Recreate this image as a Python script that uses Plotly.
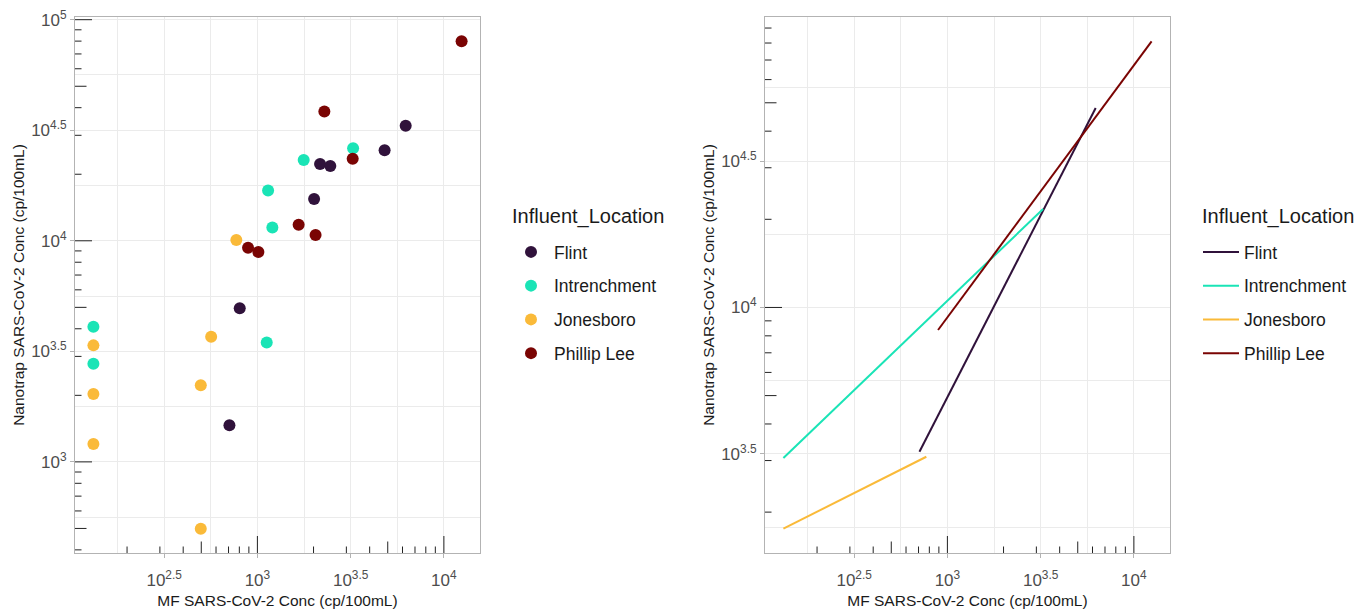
import numpy as np
import plotly.graph_objects as go

# ---------------- data (cp/100mL) ----------------
locations = ["Flint", "Intrenchment", "Jonesboro", "Phillip Lee"]
colors = ["#30123B", "#1AE4B6", "#FABA39", "#7A0403"]

mf_flint = [6240, 4810, 2168, 2460, 2014, 804, 708]
nano_flint = [33100, 25700, 22230, 21780, 15450, 4955, 1466]

mf_intrenchment = [3260, 1771, 1141, 1203, 132, 132, 1122]
nano_intrenchment = [26240, 23170, 16900, 11480, 4083, 2780, 3467]

mf_jonesboro = [771, 132, 132, 132, 497, 565, 497]
nano_jonesboro = [10080, 3365, 2028, 1206, 2219, 3681, 499]

mf_phillip = [12445, 2286, 3243, 1664, 2051, 891, 1012]
nano_phillip = [79800, 38460, 23500, 11830, 10620, 9310, 8890]

mf_all = [mf_flint, mf_intrenchment, mf_jonesboro, mf_phillip]
nano_all = [nano_flint, nano_intrenchment, nano_jonesboro, nano_phillip]

x_major = [2.5, 3, 3.5, 4]
x_minor = [2.25, 2.75, 3.25, 3.75]
y_major_left = [3, 3.5, 4, 4.5, 5]
y_major_right = [3.5, 4, 4.5]
y_minor = [2.75, 3.25, 3.75, 4.25, 4.75]

legend_title = "Influent_Location"


def sup_label(v):
    return "10<sup>%s</sup>" % ("%g" % v)


def expand(vals, frac=0.05):
    lo, hi = min(vals), max(vals)
    d = (hi - lo) * frac
    return [lo - d, hi + d]


fig = go.Figure()

lx_all, ly_all, fit_all = [], [], []
for name, col, mf, nano in zip(locations, colors, mf_all, nano_all):
    lx = np.log10(np.array(mf, dtype=float))
    ly = np.log10(np.array(nano, dtype=float))
    lx_all += list(lx)
    ly_all += list(ly)
    fig.add_trace(go.Scatter(
        x=lx, y=ly, mode="markers", name=name,
        marker=dict(color=col, size=12, line=dict(width=0)),
        xaxis="x", yaxis="y", legend="legend", legendgroup=name + "_pts"))
    coef = np.polyfit(lx, ly, 1)
    xs = np.sort(lx)
    ys = np.polyval(coef, xs)
    fit_all += list(ys)
    fig.add_trace(go.Scatter(
        x=xs, y=ys, mode="lines", name=name,
        line=dict(color=col, width=2),
        xaxis="x2", yaxis="y2", legend="legend2", legendgroup=name + "_fit"))

x_range = expand(lx_all)
y_range_left = expand(ly_all)
y_range_right = expand(fit_all)

W, H = 1359, 609
L1, R1 = 75, 480
L2, R2 = 765, 1170
T, B = 17, 553
dom_y = [1 - B / H, 1 - T / H]
plot_w = R1 - L1
plot_h = B - T

font_family = "Liberation Sans, Arial, sans-serif"
grid_col = "#EBEBEB"
border_col = "#B3B3B3"
tick_font = dict(family=font_family, size=17, color="#4D4D4D")
title_font = dict(family=font_family, size=15.5, color="#1A1A1A")


def axis_common(tickvals, minorvals, rng, title, standoff, lab_standoff):
    return dict(
        range=rng, tickmode="array", tickvals=tickvals,
        ticktext=[sup_label(v) for v in tickvals],
        showgrid=True, gridcolor=grid_col, gridwidth=1.1,
        minor=dict(tickmode="array", tickvals=minorvals, showgrid=True,
                   gridcolor=grid_col, gridwidth=0.6, ticks=""),
        zeroline=False, showline=True, mirror=True, linecolor=border_col,
        linewidth=1, ticks="outside", ticklen=4, tickcolor=border_col,
        tickwidth=1, tickfont=tick_font, ticklabelstandoff=lab_standoff,
        title=dict(text=title, font=title_font, standoff=standoff),
        automargin=False,
    )


xt = "MF SARS-CoV-2 Conc (cp/100mL)"
yt = "Nanotrap SARS-CoV-2 Conc (cp/100mL)"

leg_common = dict(xanchor="left", yanchor="top", itemwidth=36,
                  font=dict(family=font_family, size=17.5, color="#1A1A1A"),
                  tracegroupgap=8, bgcolor="rgba(0,0,0,0)")

fig.update_layout(
    width=W, height=H,
    margin=dict(l=0, r=0, t=0, b=0),
    paper_bgcolor="white", plot_bgcolor="white",
    font=dict(family=font_family),
    xaxis=dict(domain=[L1 / W, R1 / W], anchor="y",
               **axis_common(x_major, x_minor, x_range, xt, 6, 8)),
    yaxis=dict(domain=dom_y, anchor="x",
               **axis_common(y_major_left, y_minor, y_range_left, yt, 2, 0)),
    xaxis2=dict(domain=[L2 / W, R2 / W], anchor="y2",
                **axis_common(x_major, x_minor, x_range, xt, 6, 8)),
    yaxis2=dict(domain=dom_y, anchor="x2",
                **axis_common(y_major_right, y_minor, y_range_right, yt, 2, 0)),
    legend=dict(x=508 / W, y=1 - 234 / H, **leg_common),
    legend2=dict(x=1198 / W, y=1 - 234 / H, **leg_common),
    showlegend=True,
)

# legend titles
for lx0 in (510, 1200):
    fig.add_annotation(text=legend_title, xref="paper", yref="paper",
                       x=lx0 / W, y=1 - 216.5 / H, xanchor="left",
                       yanchor="middle", showarrow=False,
                       font=dict(family=font_family, size=20, color="#1A1A1A"))

# ---------------- annotation_logticks style ticks ----------------
LONG, MID, SHORT = 17, 11.5, 6.5
tick_col = "#222222"
shapes = []


def logtick_values(rng):
    out = []
    for k in range(0, 7):
        for n in range(1, 10):
            v = np.log10(n * 10 ** k)
            if rng[0] <= v <= rng[1]:
                ln = LONG if n == 1 else (MID if n == 5 else SHORT)
                out.append((v, ln))
    return out


for xa, ya, yr in (("x", "y", y_range_left), ("x2", "y2", y_range_right)):
    for v, ln in logtick_values(x_range):
        shapes.append(dict(type="line", xref=xa, yref=ya + " domain",
                           x0=v, x1=v, y0=0, y1=ln / plot_h,
                           line=dict(color=tick_col, width=1)))
    for v, ln in logtick_values(yr):
        shapes.append(dict(type="line", xref=xa + " domain", yref=ya,
                           x0=0, x1=ln / plot_w, y0=v, y1=v,
                           line=dict(color=tick_col, width=1)))

fig.update_layout(shapes=shapes)

fig.write_html("out.html")
